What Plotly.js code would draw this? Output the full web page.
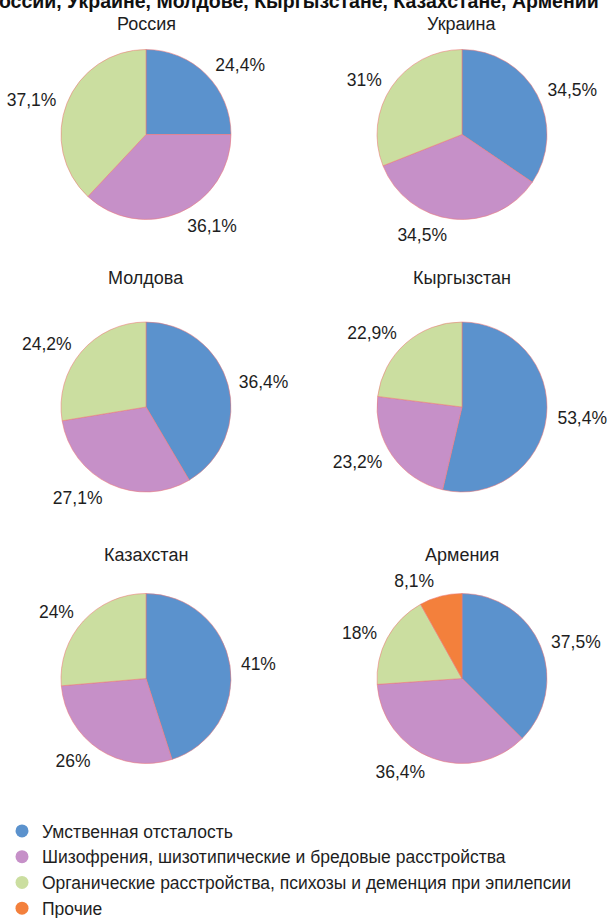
<!DOCTYPE html>
<html>
<head>
<meta charset="utf-8">
<script src="https://cdn.plot.ly/plotly-3.0.1.min.js"></script>
<style>html,body{margin:0;padding:0;background:#fff;overflow:hidden;}#chart{width:607px;height:940px;}</style>
</head>
<body>
<div id="chart"></div>
<script>
const categories = ["Умственная отсталость", "Шизофрения, шизотипические и бредовые расстройства", "Органические расстройства, психозы и деменция при эпилепсии", "Прочие"];
const countries = ["Россия", "Украина", "Молдова", "Кыргызстан", "Казахстан", "Армения"];
const russia = [24.4, 36.1, 37.1];
const ukraine = [34.5, 34.5, 31];
const moldova = [36.4, 27.1, 24.2];
const kyrgyzstan = [53.4, 23.2, 22.9];
const kazakhstan = [41, 26, 24];
const armenia = [37.5, 36.4, 18, 8.1];
const titleText = "в России, Украине, Молдове, Кыргызстане, Казахстане, Армении";

const colors = ["#5b92cd", "#c690c8", "#cbdea0", "#f3803c"];
const font = "Liberation Sans, Arial, Helvetica, sans-serif";
const W = 607, H = 940;   // paper slightly taller than the 918px window; bottom strip is empty
const centers = [[146,134.5],[462,134.5],[146,407],[462,407],[146,678.5],[462,678.5]];
const R = 85;      // visible pie radius
const RT = 91;     // radius used to place the outside labels
const titleY = [23.5, 23.5, 278, 278, 555, 555];
const seriesList = [russia, ukraine, moldova, kyrgyzstan, kazakhstan, armenia];

function dom(cx, cy, r) {
  return {x: [(cx - r) / W, (cx + r) / W], y: [1 - (cy + r) / H, 1 - (cy - r) / H]};
}

const data = [];
// legend entries (circle markers)
categories.forEach((c, i) => {
  data.push({type: "scatter", mode: "markers", x: [null], y: [null], name: c,
    marker: {color: colors[i], size: 13, symbol: "circle"}, showlegend: true, hoverinfo: "skip"});
});
seriesList.forEach((vals, k) => {
  const [cx, cy] = centers[k];
  const labs = categories.slice(0, vals.length);
  data.push({
    type: "pie", values: vals, labels: labs,
    sort: false, direction: "clockwise", rotation: 0,
    textinfo: "none",
    marker: {colors: colors.slice(0, vals.length), line: {color: "rgba(236,120,120,0.55)", width: 1}},
    domain: dom(cx, cy, R),
    showlegend: false, hoverinfo: "label+value"
  });
  // label layer: same values, transparent, slightly larger radius
  data.push({
    type: "pie", values: vals, labels: labs,
    sort: false, direction: "clockwise", rotation: 0,
    text: vals.map(v => String(v).replace(".", ",") + "%"),
    textinfo: "text", textposition: "outside",
    outsidetextfont: {family: font, size: 17.5, color: "#1e1e1e"},
    marker: {colors: vals.map(() => "rgba(0,0,0,0)"), line: {width: 0}},
    domain: dom(cx, cy, RT),
    showlegend: false, hoverinfo: "skip"
  });
});

const annotations = countries.map((c, k) => ({
  text: c, x: centers[k][0] / W, y: 1 - titleY[k] / H, xref: "paper", yref: "paper",
  xanchor: "center", yanchor: "middle", showarrow: false,
  font: {family: font, size: 18, color: "#1e1e1e"}
}));
annotations.push({
  text: "<b>" + titleText + "</b>", x: 601 / W, y: 1 - 1 / H, xref: "paper", yref: "paper",
  xanchor: "right", yanchor: "middle", showarrow: false,
  font: {family: font, size: 19.5, color: "#111"}
});

const layout = {
  width: W, height: H,
  margin: {l: 0, r: 0, t: 0, b: 0},
  paper_bgcolor: "#fff", plot_bgcolor: "#fff",
  xaxis: {visible: false, domain: [0, 0.01]}, yaxis: {visible: false, domain: [0, 0.01]},
  showlegend: true,
  legend: {x: 2 / W, y: 1 - 813 / H, xanchor: "left", yanchor: "top",
    font: {family: font, size: 17.5, color: "#1e1e1e"}, bgcolor: "rgba(0,0,0,0)", tracegroupgap: 0},
  annotations: annotations,
  font: {family: font}
};

Plotly.newPlot("chart", data, layout, {displayModeBar: false, staticPlot: true});
</script>
</body>
</html>
